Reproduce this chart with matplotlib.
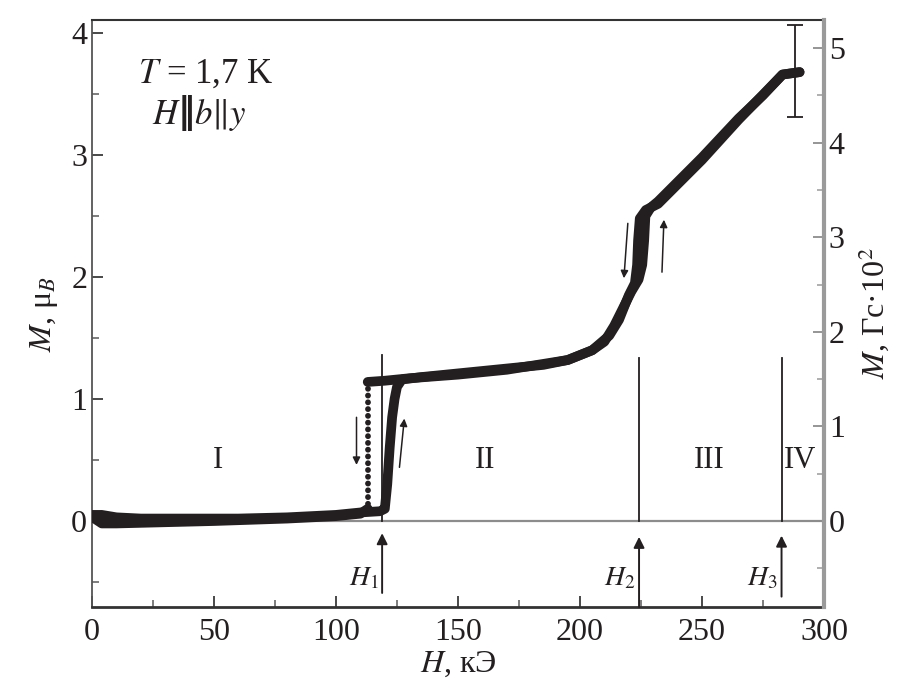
import matplotlib
matplotlib.use("Agg")
import matplotlib.pyplot as plt
import numpy as np

plt.rcParams['font.family'] = ['Liberation Serif', 'DejaVu Serif']
plt.rcParams['mathtext.fontset'] = 'stix'

# Magnetization curve, field sweep up (H in kOe, M in mu_B)
h_up = [0, 4, 10, 20, 40, 60, 80, 100, 110, 118, 120, 121, 122, 123, 124, 125,
        127, 135, 150, 170, 185, 195, 205, 210, 214, 218, 221, 224, 225.5, 226.3,
        226.8, 229, 232, 250, 265, 275, 283, 290]
m_up = [0.05, 0.05, 0.03, 0.02, 0.02, 0.02, 0.03, 0.05, 0.07, 0.08, 0.10, 0.30,
        0.60, 0.85, 1.00, 1.10, 1.16, 1.18, 1.21, 1.25, 1.28, 1.32, 1.40, 1.47,
        1.60, 1.76, 1.88, 1.98, 2.10, 2.30, 2.50, 2.57, 2.62, 2.98, 3.30, 3.49,
        3.66, 3.68]

# Field sweep down: upper part down to the jump at H1
h_down_hi = [290, 283, 265, 250, 232, 227, 224.5, 223.8, 223.4, 222.5, 220, 216,
             212, 205, 195, 170, 150, 130, 120, 113]
m_down_hi = [3.68, 3.66, 3.29, 2.96, 2.60, 2.55, 2.48, 2.30, 2.10, 1.95, 1.85,
             1.65, 1.52, 1.40, 1.32, 1.24, 1.20, 1.17, 1.15, 1.14]
# lower part after the jump
h_down_lo = [113, 110, 100, 80, 50, 30, 10, 4, 1]
m_down_lo = [0.10, 0.06, 0.04, 0.02, 0.0, -0.01, -0.02, -0.02, 0.02]

# Critical fields and region labels
h_crit = [118.9, 224.2, 282.6]
crit_names = ['$H_1$', '$H_2$', '$H_3$']
regions = ['I', 'II', 'III', 'IV']
region_h = [51.6, 161, 253, 290]

# Error bar at the end of the curve
err_h, err_m, err_dm = 288, 3.69, 0.38

# Right axis scale: Gs*10^2 per mu_B
scale_right = 1.29

ink = '#231f20'

fig = plt.figure(figsize=(9.12, 6.93), dpi=100)
ax = fig.add_axes([0.1009, 0.1241, 0.8026, 0.847])

ax.set_xlim(0, 300)
ax.set_ylim(-0.705, 4.107)

# zero line
ax.axhline(0, color='#8c8c8c', lw=1.6, zorder=1)

lw_curve = 7.0
for hx, my in [(h_up, m_up), (h_down_hi, m_down_hi), (h_down_lo, m_down_lo)]:
    ax.plot(hx, my, color=ink, lw=lw_curve, solid_capstyle='round',
            solid_joinstyle='round', zorder=3)
# dotted jump on the down sweep
ax.plot([h_down_hi[-1], h_down_lo[0]], [m_down_hi[-1], m_down_lo[0]],
        color=ink, lw=4.2, linestyle=(0, (0.01, 1.15)), dash_capstyle='round',
        zorder=3)

ax.errorbar([err_h], [err_m], yerr=[err_dm], fmt='none', ecolor=ink,
            elinewidth=1.3, capsize=6, capthick=1.3, zorder=4)

# critical field lines and arrows
line_top = [1.36, 1.34, 1.34]
arrow_top = [-0.10, -0.13, -0.12]
arrow_bot = [-0.59, -0.705, -0.62]
for hc, top in zip(h_crit, line_top):
    ax.plot([hc, hc], [0, top], color=ink, lw=1.3, zorder=4)
for hc, at, ab, name in zip(h_crit, arrow_top, arrow_bot, crit_names):
    ax.annotate('', xy=(hc, at), xytext=(hc, ab),
                arrowprops=dict(arrowstyle='-|>', color=ink, lw=1.4,
                                mutation_scale=16, shrinkA=0, shrinkB=0))
    ax.text(hc - 1.5, -0.47, name, ha='right', va='center', fontsize=20,
            color=ink)

for lab, hx in zip(regions, region_h):
    ax.text(hx, 0.50, lab, ha='center', va='center', fontsize=22, color=ink)

# sweep direction arrows
sweep_arrows = [((108.4, 0.85), (108.4, 0.46)), ((126.0, 0.44), (128.0, 0.84)),
                ((219.6, 2.44), (218.0, 1.99)), ((233.6, 2.04), (234.4, 2.47))]
for (x0, y0), (x1, y1) in sweep_arrows:
    ax.annotate('', xy=(x1, y1), xytext=(x0, y0),
                arrowprops=dict(arrowstyle='-|>', color=ink, lw=1.1,
                                mutation_scale=11, shrinkA=0, shrinkB=0))

ax.text(18.9, 3.66, '$T$ = 1,7 K', fontsize=25, ha='left', va='center', color=ink)

# orientation label: H || b || y, pieces chained one after another
fams = ['STIXGeneral', 'DejaVu Sans']
pieces = [('H', 'italic', 'normal'), ('\u2016', 'normal', 'bold'),
          ('b', 'italic', 'normal'), ('\u2016', 'normal', 'normal'),
          ('y', 'italic', 'normal')]
prev = ax.text(24.6, 3.20, pieces[0][0], fontsize=25, ha='left', va='bottom',
               color=ink, family=fams, style=pieces[0][1],
               fontweight=pieces[0][2])
for txt, sty, wt in pieces[1:]:
    prev = ax.annotate(txt, xy=(1, 0), xycoords=prev, ha='left', va='bottom',
                       fontsize=25, color=ink, family=fams,
                       style=sty, fontweight=wt)

# axes styling
ax.set_xticks([0, 50, 100, 150, 200, 250, 300])
ax.set_xticks(np.arange(0, 301, 25), minor=True)
ax.set_yticks([0, 1, 2, 3, 4])
ax.set_yticks(np.arange(-0.5, 4.01, 0.5), minor=True)
ax.tick_params(axis='both', which='major', direction='in', length=8, width=1.3,
               labelsize=23, colors='#3a3a3a', labelcolor=ink)
ax.tick_params(axis='both', which='minor', direction='in', length=5, width=1.1,
               colors='#5a5a5a')
ax.tick_params(axis='x', pad=8)
ax.spines['left'].set_color('#555555')
ax.spines['left'].set_linewidth(1.3)
ax.spines['bottom'].set_color('#333333')
ax.spines['bottom'].set_linewidth(2.0)
ax.spines['top'].set_color('#333333')
ax.spines['top'].set_linewidth(1.5)
ax.spines['right'].set_visible(False)

ax.set_xlabel('$H$, кЭ', fontsize=23, color=ink, labelpad=2)
ax.set_ylabel('$M$, μ$_B$', fontsize=23, color=ink, labelpad=8)

ax2 = ax.twinx()
ax2.set_ylim(-0.705 * scale_right, 4.107 * scale_right)
ax2.set_yticks([0, 1, 2, 3, 4, 5])
ax2.set_yticks(np.arange(-0.5, 5.01, 0.5), minor=True)
ax2.tick_params(axis='y', which='major', direction='in', length=8, width=1.3,
                labelsize=23, colors='#8c8c8c', labelcolor=ink)
ax2.tick_params(axis='y', which='minor', direction='in', length=5, width=1.1,
                colors='#9a9a9a')
for s in ['left', 'top', 'bottom']:
    ax2.spines[s].set_visible(False)
ax2.spines['right'].set_color('#9a9a9a')
ax2.spines['right'].set_linewidth(3.0)
ax2.set_ylabel('$M$, Гс·10$^2$', fontsize=23, color=ink, labelpad=8)

fig.savefig('out.png', dpi=100)
